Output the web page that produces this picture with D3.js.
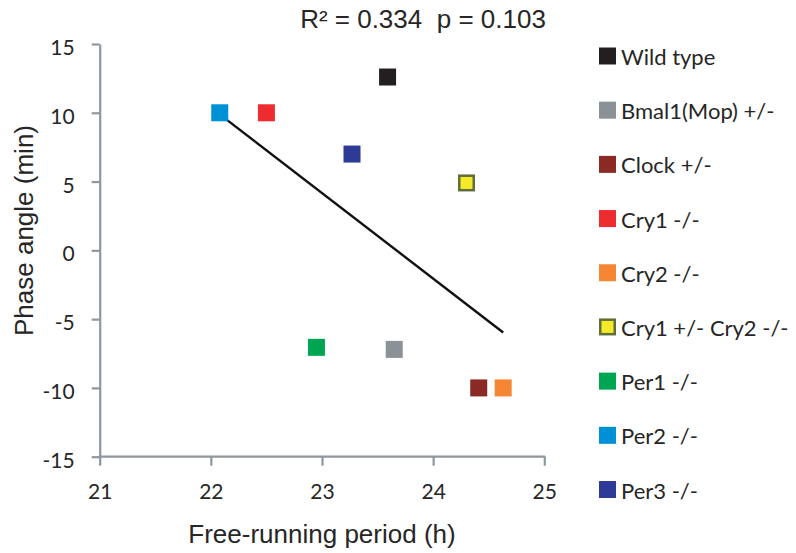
<!DOCTYPE html>
<html><head><meta charset="utf-8">
<script src="https://cdn.jsdelivr.net/npm/d3@7"></script>
<style>html,body{margin:0;padding:0;background:#fff;}svg{display:block;}</style>
</head><body>
<svg id="chart" width="796" height="553"></svg>
<script>
const genotypes = ["Wild type","Bmal1(Mop) +/-","Clock +/-","Cry1 -/-","Cry2 -/-","Cry1 +/- Cry2 -/-","Per1 -/-","Per2 -/-","Per3 -/-"];
const period = [23.59, 23.65, 24.41, 22.50, 24.63, 24.30, 22.95, 22.08, 23.27];
const phase = [12.6, -7.2, -10.0, 10.0, -10.0, 4.9, -7.05, 10.0, 7.0];
const fills = ["#231f20","#8b9297","#8b2a25","#ee2b2f","#f58634","#f5ea2a","#00a551","#0090d6","#2e3a95"];
const strokes = [null,null,null,null,null,"#5f6e3a",null,null,null];
const xTicks = [21,22,23,24,25];
const yTicks = [-15,-10,-5,0,5,10,15];
const statsText = "R\u00b2 = 0.334  p = 0.103";

const svg = d3.select("#chart");
const x = d3.scaleLinear().domain([21,25]).range([99.7,544.3]);
const y = d3.scaleLinear().domain([-15,15]).range([456.7,44]);
const axisColor = "#8d979f";
const fmt = d => String(d);

// axes
const gx = svg.append("g").attr("transform",`translate(0,${y(-15)})`)
  .call(d3.axisBottom(x).tickValues(xTicks).tickFormat(fmt).tickSize(9).tickPadding(18).tickSizeOuter(0));
const gy = svg.append("g").attr("transform",`translate(${x(21)},0)`)
  .call(d3.axisLeft(y).tickValues(yTicks).tickFormat(fmt).tickSize(8).tickPadding(17).tickSizeOuter(0));
[gx,gy].forEach(g=>{
  g.select(".domain").attr("stroke",axisColor).attr("stroke-width",2.2);
  g.selectAll(".tick line").attr("stroke",axisColor).attr("stroke-width",2.2);
  g.selectAll(".tick text").attr("fill","#262626").style("font-family","Lato, sans-serif").style("font-size","21px");
});
gy.selectAll(".tick text").attr("dy","0.5em");
gx.selectAll(".tick text").attr("dy","0.71em");
gx.select(".domain").attr("d",`M${x(21)-1},0H${x(25)+1}`);

// regression line computed from data
const n = period.length;
const mx = d3.mean(period), my = d3.mean(phase);
let sxy=0,sxx=0;
for(let i=0;i<n;i++){sxy+=(period[i]-mx)*(phase[i]-my);sxx+=(period[i]-mx)**2;}
const slope = sxy/sxx, icpt = my - slope*mx;
const x0 = d3.min(period), x1 = d3.max(period);
svg.append("line")
  .attr("x1",x(x0)).attr("y1",y(icpt+slope*x0))
  .attr("x2",x(x1)).attr("y2",y(icpt+slope*x1))
  .attr("stroke","#111").attr("stroke-width",2.4);

// points
const S = 17;
const data = genotypes.map((g,i)=>({g,px:period[i],py:phase[i],fill:fills[i],stroke:strokes[i]}));
svg.append("g").selectAll("rect").data(data).join("rect")
  .attr("x",d=>x(d.px)-S/2).attr("y",d=>y(d.py)-S/2)
  .attr("width",S).attr("height",S)
  .attr("fill",d=>d.fill)
  .attr("stroke",d=>d.stroke||"none").attr("stroke-width",2.5)
  .each(function(d){ if(d.stroke){ d3.select(this).attr("x",x(d.px)-S/2+1.25).attr("y",y(d.py)-S/2+1.25).attr("width",S-2.5).attr("height",S-2.5);} });

// legend
const lg = svg.append("g");
const ly = d3.scaleLinear().domain([0,8]).range([56,489.5]);
data.forEach((d,i)=>{
  const cy = ly(i);
  const r = lg.append("rect").attr("x",599).attr("y",cy-S/2).attr("width",S).attr("height",S).attr("fill",d.fill);
  if(d.stroke) r.attr("x",599+1.25).attr("y",cy-S/2+1.25).attr("width",S-2.5).attr("height",S-2.5).attr("stroke",d.stroke).attr("stroke-width",2.5);
  lg.append("text").attr("x",621).attr("y",cy+9).text(d.g)
    .attr("fill","#262626").style("font-family","Lato, sans-serif").style("font-size","22px");
});

// title
svg.append("text").attr("x",423).attr("y",28).attr("text-anchor","middle")
  .style("font-family","'Liberation Sans', Arial, sans-serif").style("font-size","26px")
  .style("white-space","pre").attr("fill","#262626").text(statsText);

// axis titles
svg.append("text").attr("x",x(23)).attr("y",543).attr("text-anchor","middle")
  .style("font-family","'Liberation Sans', Arial, sans-serif").style("font-size","26px")
  .attr("fill","#262626").text("Free-running period (h)");
svg.append("text").attr("transform","translate(33,230.5) rotate(-90)").attr("text-anchor","middle")
  .style("font-family","'Liberation Sans', Arial, sans-serif").style("font-size","26px")
  .attr("fill","#262626").text("Phase angle (min)");
</script>
</body></html>
